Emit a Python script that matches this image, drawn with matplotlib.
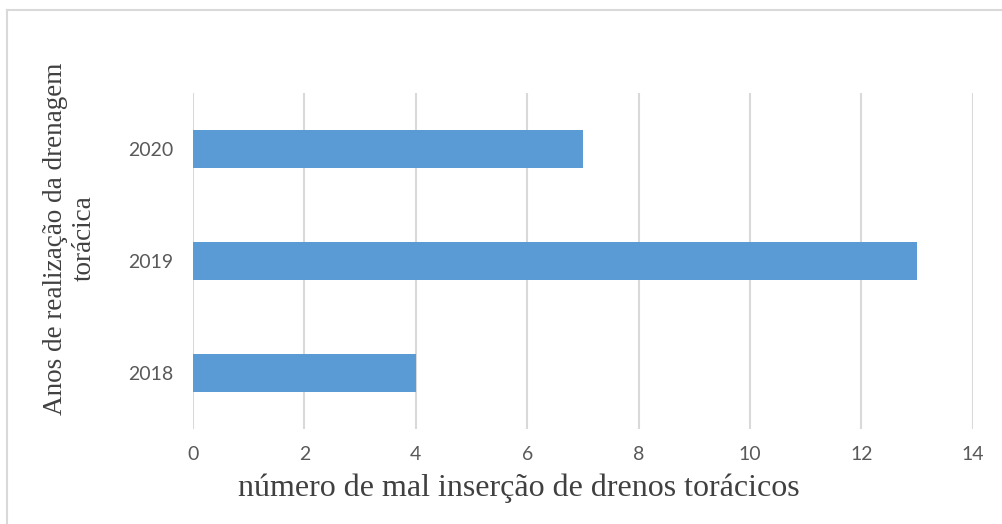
import matplotlib
matplotlib.use("Agg")
import matplotlib.pyplot as plt
from matplotlib.lines import Line2D

years = ["2018", "2019", "2020"]
counts = [4, 13, 7]
x_ticks = [0, 2, 4, 6, 8, 10, 12, 14]

bar_color = "#5b9bd5"
grid_color = "#d9d9d9"
tick_color = "#595959"

fig = plt.figure(figsize=(10.03, 5.24), dpi=100)
ax = fig.add_axes([0.1924, 0.181, 0.7776, 0.6415])

ypos = list(range(len(years)))
ax.barh(ypos, counts, height=0.34, color=bar_color, zorder=3)

ax.set_xlim(x_ticks[0], x_ticks[-1])
ax.set_ylim(-0.5, len(years) - 0.5)
ax.set_xticks(x_ticks)
ax.set_xticklabels([str(t) for t in x_ticks])
ax.set_yticks(ypos)
ax.set_yticklabels(years)

ax.grid(axis="x", color=grid_color, linewidth=1.5, zorder=0)
ax.grid(axis="y", visible=False)
for side in ["top", "right", "bottom", "left"]:
    ax.spines[side].set_visible(False)
ax.tick_params(axis="both", length=0, labelcolor=tick_color, labelsize=14,
               labelfontfamily="Lato")
ax.tick_params(axis="x", pad=12)
ax.tick_params(axis="y", pad=14)

fig.text(519 / 1003, 1 - 488 / 524, "número de mal inserção de drenos torácicos",
         ha="center", va="center",
         family="Liberation Serif", fontsize=23, color="#404040")
fig.text(0.070, 0.545, "Anos de realização da drenagem\ntorácica",
         rotation=90, ha="center", va="center", multialignment="center",
         family="Liberation Serif", fontsize=19.5, color="#404040",
         linespacing=1.2)

# frame lines along the top and left of the chart area
fig.add_artist(Line2D([7 / 1003, 1.0], [1 - 10 / 524, 1 - 10 / 524],
                      transform=fig.transFigure, color=grid_color, linewidth=1.5))
fig.add_artist(Line2D([7 / 1003, 7 / 1003], [0.0, 1 - 10 / 524],
                      transform=fig.transFigure, color=grid_color, linewidth=1.5))

fig.savefig("out.png", dpi=100)
